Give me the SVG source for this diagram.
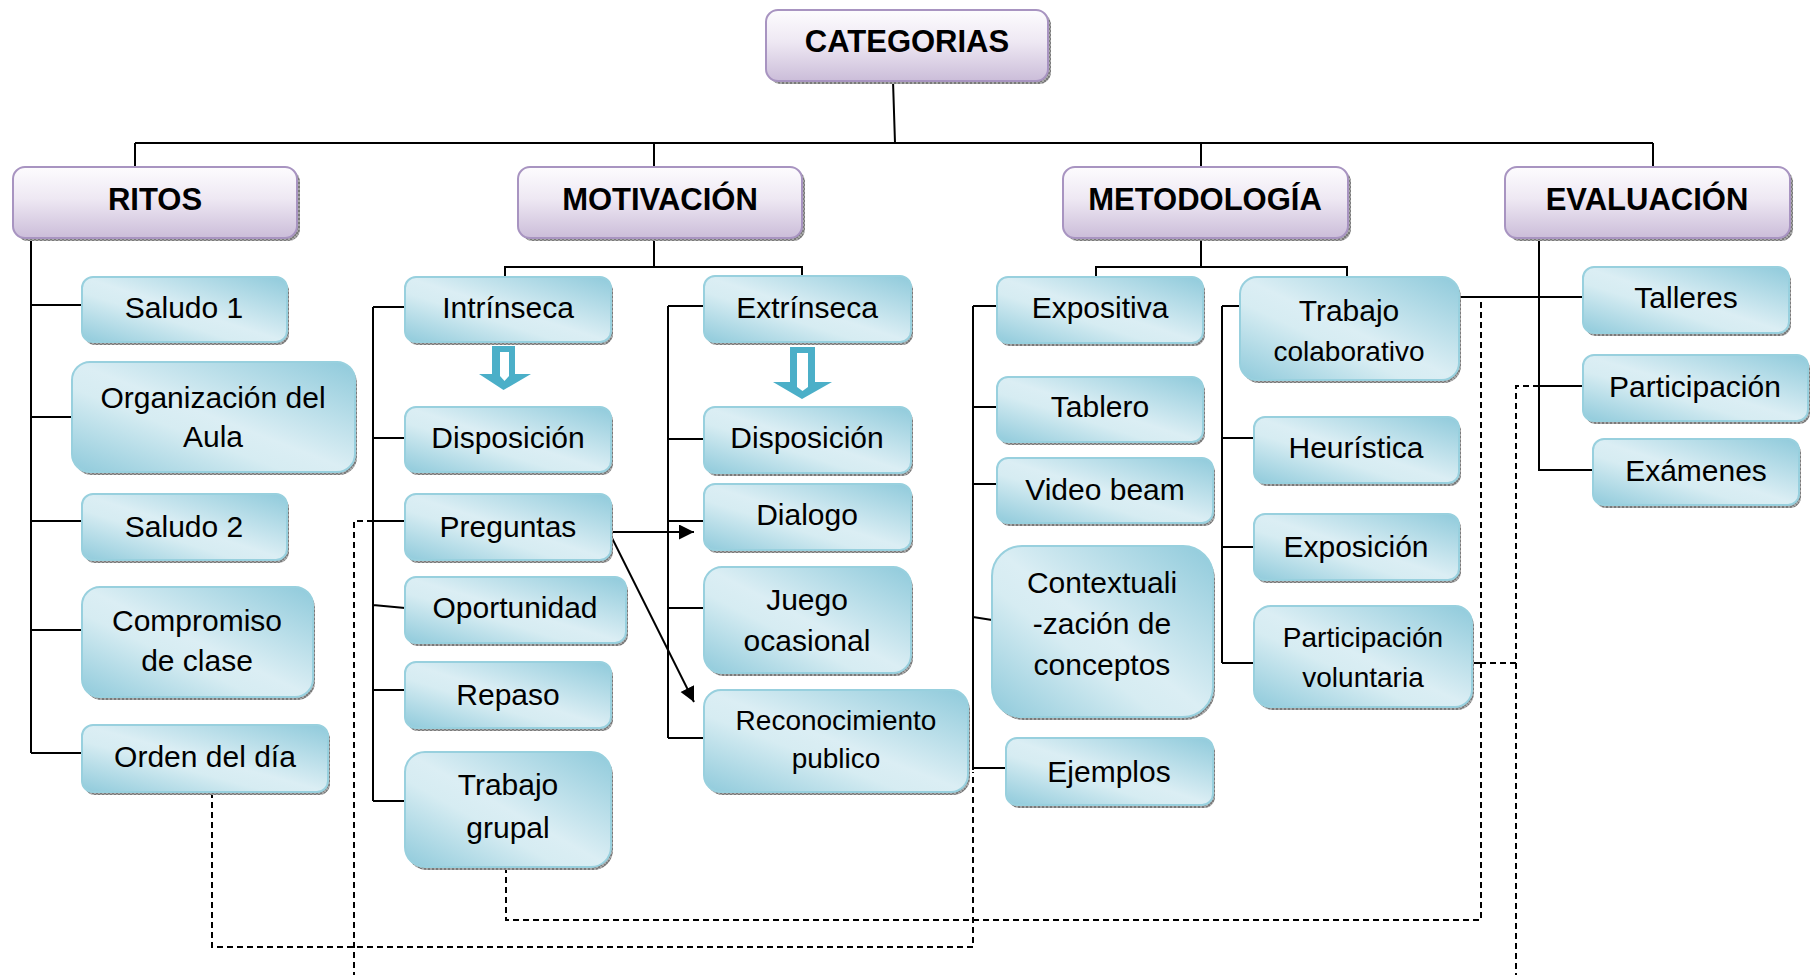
<svg xmlns="http://www.w3.org/2000/svg" width="1814" height="975" viewBox="0 0 1814 975">
<defs>
<linearGradient id="gP" x1="0" y1="0" x2="0" y2="1">
<stop offset="0" stop-color="#fdfcfe"/><stop offset="0.45" stop-color="#eee8f3"/><stop offset="1" stop-color="#cbbdd9"/>
</linearGradient>
<linearGradient id="gT" x1="1" y1="0" x2="0" y2="1">
<stop offset="0" stop-color="#8fcadb"/><stop offset="0.5" stop-color="#dbeef4"/><stop offset="0.62" stop-color="#d6ecf2"/><stop offset="1" stop-color="#8fcadb"/>
</linearGradient>
<pattern id="hatch" width="4" height="4" patternUnits="userSpaceOnUse">
<rect width="4" height="4" fill="#a7a7a7"/><rect width="2" height="2" fill="#7a7a7a"/><rect x="2" y="2" width="2" height="2" fill="#7a7a7a"/>
</pattern>
<marker id="ah" markerWidth="16" markerHeight="16" refX="15" refY="7.5" orient="auto" markerUnits="userSpaceOnUse">
<path d="M0,0 L15,7.5 L0,15 z" fill="#000"/>
</marker>
</defs>
<style>
.sh{fill:url(#hatch)}
.cat{fill:url(#gP);stroke:#a894c1;stroke-width:2}
.tl{fill:url(#gT);stroke:#98d0de;stroke-width:2}
.ct{font-family:"Liberation Sans",Arial,sans-serif;font-weight:bold;font-size:31px;fill:#000;text-anchor:middle}
.tt{font-family:"Liberation Sans",Arial,sans-serif;font-size:30px;fill:#000;text-anchor:middle}
.ts{font-family:"Liberation Sans",Arial,sans-serif;font-size:28px;fill:#000;text-anchor:middle}
.ln{fill:none;stroke:#000;stroke-width:2}
.ds{fill:none;stroke:#000;stroke-width:2;stroke-dasharray:6,4}
.ao{fill:#4bafc8}
.ai{fill:#fff}
</style>

<g id="connectors">
<path class="ln" d="M893,81 L895,143 M135,143 L1653,143 M135,143 L135,167 M654,143 L654,167 M1201,143 L1201,167 M1653,143 L1653,167"/>
<path class="ln" d="M31,238 L31,753 M31,305 L82,305 M31,417 L72,417 M31,521 L82,521 M31,630 L82,630 M31,753 L82,753"/>
<path class="ln" d="M654,238 L654,267 M505,277 L505,267 L802,267 L802,276"/>
<path class="ln" d="M373,307 L373,801 M373,307 L405,307 M373,438 L405,438 M373,521 L405,521 M373,605 L405,608 M373,690 L405,690 M373,801 L405,801"/>
<path class="ln" d="M668,306 L668,738 M668,306 L704,306 M668,439 L704,439 M668,521 L704,521 M668,608 L704,608 M668,738 L704,738"/>
<path class="ln" d="M609,532 L694,532" marker-end="url(#ah)"/>
<path class="ln" d="M609,532 L694,702" marker-end="url(#ah)"/>
<path class="ln" d="M1201,238 L1201,267 M1096,277 L1096,267 L1347,267 L1347,277"/>
<path class="ln" d="M973,306 L973,770 M973,306 L997,306 M973,407 L997,407 M973,484 L997,484 M973,617 L992,620 M973,768 L1006,768"/>
<path class="ln" d="M1222,306 L1222,663 M1222,306 L1240,306 M1222,438 L1254,438 M1222,547 L1254,547 M1222,663 L1254,663 M1472,663 L1480,663"/>
<path class="ln" d="M1539,238 L1539,470 L1593,470 M1459,297 L1583,297 M1539,386 L1583,386"/>
<path class="ao" d="M492,346 L515,346 L515,374 L531,374 L503.5,390 L479,374 L492,374 Z"/>
<path class="ai" d="M500,352 L509,352 L509,376 L504.5,381 L500,376 Z"/>
<path class="ao" d="M790,347 L815,347 L815,382 L832,382 L802,399 L773,382 L790,382 Z"/>
<path class="ai" d="M797,353 L808,353 L808,387 L802.5,391 L797,387 Z"/>
<path class="ds" d="M212,792 L212,947 L973,947 L973,772"/>
<path class="ds" d="M373,521 L354,521 L354,975"/>
<path class="ds" d="M506,867 L506,920 L1481,920 L1481,299"/>
<path class="ds" d="M1539,386 L1516,386 L1516,975 M1480,663 L1516,663"/>
</g>

<g id="n-categorias"><rect class="sh" x="769" y="13" width="282" height="71" rx="12"/><rect class="cat" x="766" y="10" width="282" height="71" rx="12"/><text class="ct" x="907" y="52">CATEGORIAS</text></g>
<g id="n-ritos"><rect class="sh" x="16" y="170" width="284" height="71" rx="12"/><rect class="cat" x="13" y="167" width="284" height="71" rx="12"/><text class="ct" x="155" y="210">RITOS</text></g>
<g id="n-motivacion"><rect class="sh" x="521" y="170" width="284" height="71" rx="12"/><rect class="cat" x="518" y="167" width="284" height="71" rx="12"/><text class="ct" x="660" y="210">MOTIVACIÓN</text></g>
<g id="n-metodologia"><rect class="sh" x="1066" y="170" width="285" height="71" rx="12"/><rect class="cat" x="1063" y="167" width="285" height="71" rx="12"/><text class="ct" x="1205" y="210">METODOLOGÍA</text></g>
<g id="n-evaluacion"><rect class="sh" x="1508" y="170" width="285" height="71" rx="12"/><rect class="cat" x="1505" y="167" width="285" height="71" rx="12"/><text class="ct" x="1647" y="210">EVALUACIÓN</text></g>

<g id="n-saludo1"><rect class="sh" x="84" y="280" width="205" height="65" rx="11"/><rect class="tl" x="82" y="277" width="205" height="65" rx="11"/><text class="tt" x="184" y="318">Saludo 1</text></g>
<g id="n-organizacion"><rect class="sh" x="74" y="365" width="283" height="110" rx="18"/><rect class="tl" x="72" y="362" width="283" height="110" rx="18"/><text class="tt" x="213" y="408">Organización del</text><text class="tt" x="213" y="447">Aula</text></g>
<g id="n-saludo2"><rect class="sh" x="84" y="497" width="205" height="66" rx="11"/><rect class="tl" x="82" y="494" width="205" height="66" rx="11"/><text class="tt" x="184" y="537">Saludo 2</text></g>
<g id="n-compromiso"><rect class="sh" x="84" y="590" width="231" height="110" rx="18"/><rect class="tl" x="82" y="587" width="231" height="110" rx="18"/><text class="tt" x="197" y="631">Compromiso</text><text class="tt" x="197" y="671">de clase</text></g>
<g id="n-orden"><rect class="sh" x="84" y="728" width="246" height="67" rx="11"/><rect class="tl" x="82" y="725" width="246" height="67" rx="11"/><text class="tt" x="205" y="767">Orden del día</text></g>

<g id="n-intrinseca"><rect class="sh" x="407" y="280" width="206" height="65" rx="11"/><rect class="tl" x="405" y="277" width="206" height="65" rx="11"/><text class="tt" x="508" y="318">Intrínseca</text></g>
<g id="n-disposicion1"><rect class="sh" x="407" y="410" width="206" height="65" rx="11"/><rect class="tl" x="405" y="407" width="206" height="65" rx="11"/><text class="tt" x="508" y="448">Disposición</text></g>
<g id="n-preguntas"><rect class="sh" x="407" y="497" width="206" height="66" rx="11"/><rect class="tl" x="405" y="494" width="206" height="66" rx="11"/><text class="tt" x="508" y="537">Preguntas</text></g>
<g id="n-oportunidad"><rect class="sh" x="407" y="580" width="221" height="66" rx="11"/><rect class="tl" x="405" y="577" width="221" height="66" rx="11"/><text class="tt" x="515" y="618">Oportunidad</text></g>
<g id="n-repaso"><rect class="sh" x="407" y="665" width="206" height="66" rx="11"/><rect class="tl" x="405" y="662" width="206" height="66" rx="11"/><text class="tt" x="508" y="705">Repaso</text></g>
<g id="n-trabajogrupal"><rect class="sh" x="407" y="755" width="206" height="115" rx="20"/><rect class="tl" x="405" y="752" width="206" height="115" rx="20"/><text class="tt" x="508" y="795">Trabajo</text><text class="tt" x="508" y="838">grupal</text></g>

<g id="n-extrinseca"><rect class="sh" x="706" y="279" width="207" height="66" rx="11"/><rect class="tl" x="704" y="276" width="207" height="66" rx="11"/><text class="tt" x="807" y="318">Extrínseca</text></g>
<g id="n-disposicion2"><rect class="sh" x="706" y="410" width="207" height="66" rx="11"/><rect class="tl" x="704" y="407" width="207" height="66" rx="11"/><text class="tt" x="807" y="448">Disposición</text></g>
<g id="n-dialogo"><rect class="sh" x="706" y="487" width="207" height="66" rx="11"/><rect class="tl" x="704" y="484" width="207" height="66" rx="11"/><text class="tt" x="807" y="525">Dialogo</text></g>
<g id="n-juego"><rect class="sh" x="706" y="570" width="207" height="106" rx="18"/><rect class="tl" x="704" y="567" width="207" height="106" rx="18"/><text class="tt" x="807" y="610">Juego</text><text class="tt" x="807" y="651">ocasional</text></g>
<g id="n-reconocimiento"><rect class="sh" x="706" y="693" width="264" height="102" rx="17"/><rect class="tl" x="704" y="690" width="264" height="102" rx="17"/><text class="ts" x="836" y="730">Reconocimiento</text><text class="ts" x="836" y="768">publico</text></g>

<g id="n-expositiva"><rect class="sh" x="999" y="280" width="206" height="66" rx="11"/><rect class="tl" x="997" y="277" width="206" height="66" rx="11"/><text class="tt" x="1100" y="318">Expositiva</text></g>
<g id="n-tablero"><rect class="sh" x="999" y="380" width="206" height="65" rx="11"/><rect class="tl" x="997" y="377" width="206" height="65" rx="11"/><text class="tt" x="1100" y="417">Tablero</text></g>
<g id="n-videobeam"><rect class="sh" x="999" y="461" width="216" height="65" rx="11"/><rect class="tl" x="997" y="458" width="216" height="65" rx="11"/><text class="tt" x="1105" y="500">Video beam</text></g>
<g id="n-contextualizacion"><rect class="sh" x="994" y="549" width="221" height="171" rx="30"/><rect class="tl" x="992" y="546" width="221" height="171" rx="30"/><text class="tt" x="1102" y="593">Contextuali</text><text class="tt" x="1102" y="634">-zación de</text><text class="tt" x="1102" y="675">conceptos</text></g>
<g id="n-ejemplos"><rect class="sh" x="1008" y="741" width="207" height="67" rx="11"/><rect class="tl" x="1006" y="738" width="207" height="67" rx="11"/><text class="tt" x="1109" y="782">Ejemplos</text></g>
<g id="n-trabajocolab"><rect class="sh" x="1242" y="280" width="219" height="103" rx="17"/><rect class="tl" x="1240" y="277" width="219" height="103" rx="17"/><text class="tt" x="1349" y="321">Trabajo</text><text class="ts" x="1349" y="361">colaborativo</text></g>
<g id="n-heuristica"><rect class="sh" x="1256" y="420" width="205" height="66" rx="11"/><rect class="tl" x="1254" y="417" width="205" height="66" rx="11"/><text class="tt" x="1356" y="458">Heurística</text></g>
<g id="n-exposicion"><rect class="sh" x="1256" y="517" width="205" height="66" rx="11"/><rect class="tl" x="1254" y="514" width="205" height="66" rx="11"/><text class="tt" x="1356" y="557">Exposición</text></g>
<g id="n-partvoluntaria"><rect class="sh" x="1256" y="609" width="218" height="101" rx="17"/><rect class="tl" x="1254" y="606" width="218" height="101" rx="17"/><text class="ts" x="1363" y="647">Participación</text><text class="ts" x="1363" y="687">voluntaria</text></g>

<g id="n-talleres"><rect class="sh" x="1585" y="270" width="206" height="66" rx="11"/><rect class="tl" x="1583" y="267" width="206" height="66" rx="11"/><text class="tt" x="1686" y="308">Talleres</text></g>
<g id="n-participacion"><rect class="sh" x="1585" y="358" width="225" height="66" rx="11"/><rect class="tl" x="1583" y="355" width="225" height="66" rx="11"/><text class="tt" x="1695" y="397">Participación</text></g>
<g id="n-examenes"><rect class="sh" x="1595" y="442" width="206" height="66" rx="11"/><rect class="tl" x="1593" y="439" width="206" height="66" rx="11"/><text class="tt" x="1696" y="481">Exámenes</text></g>
</svg>
